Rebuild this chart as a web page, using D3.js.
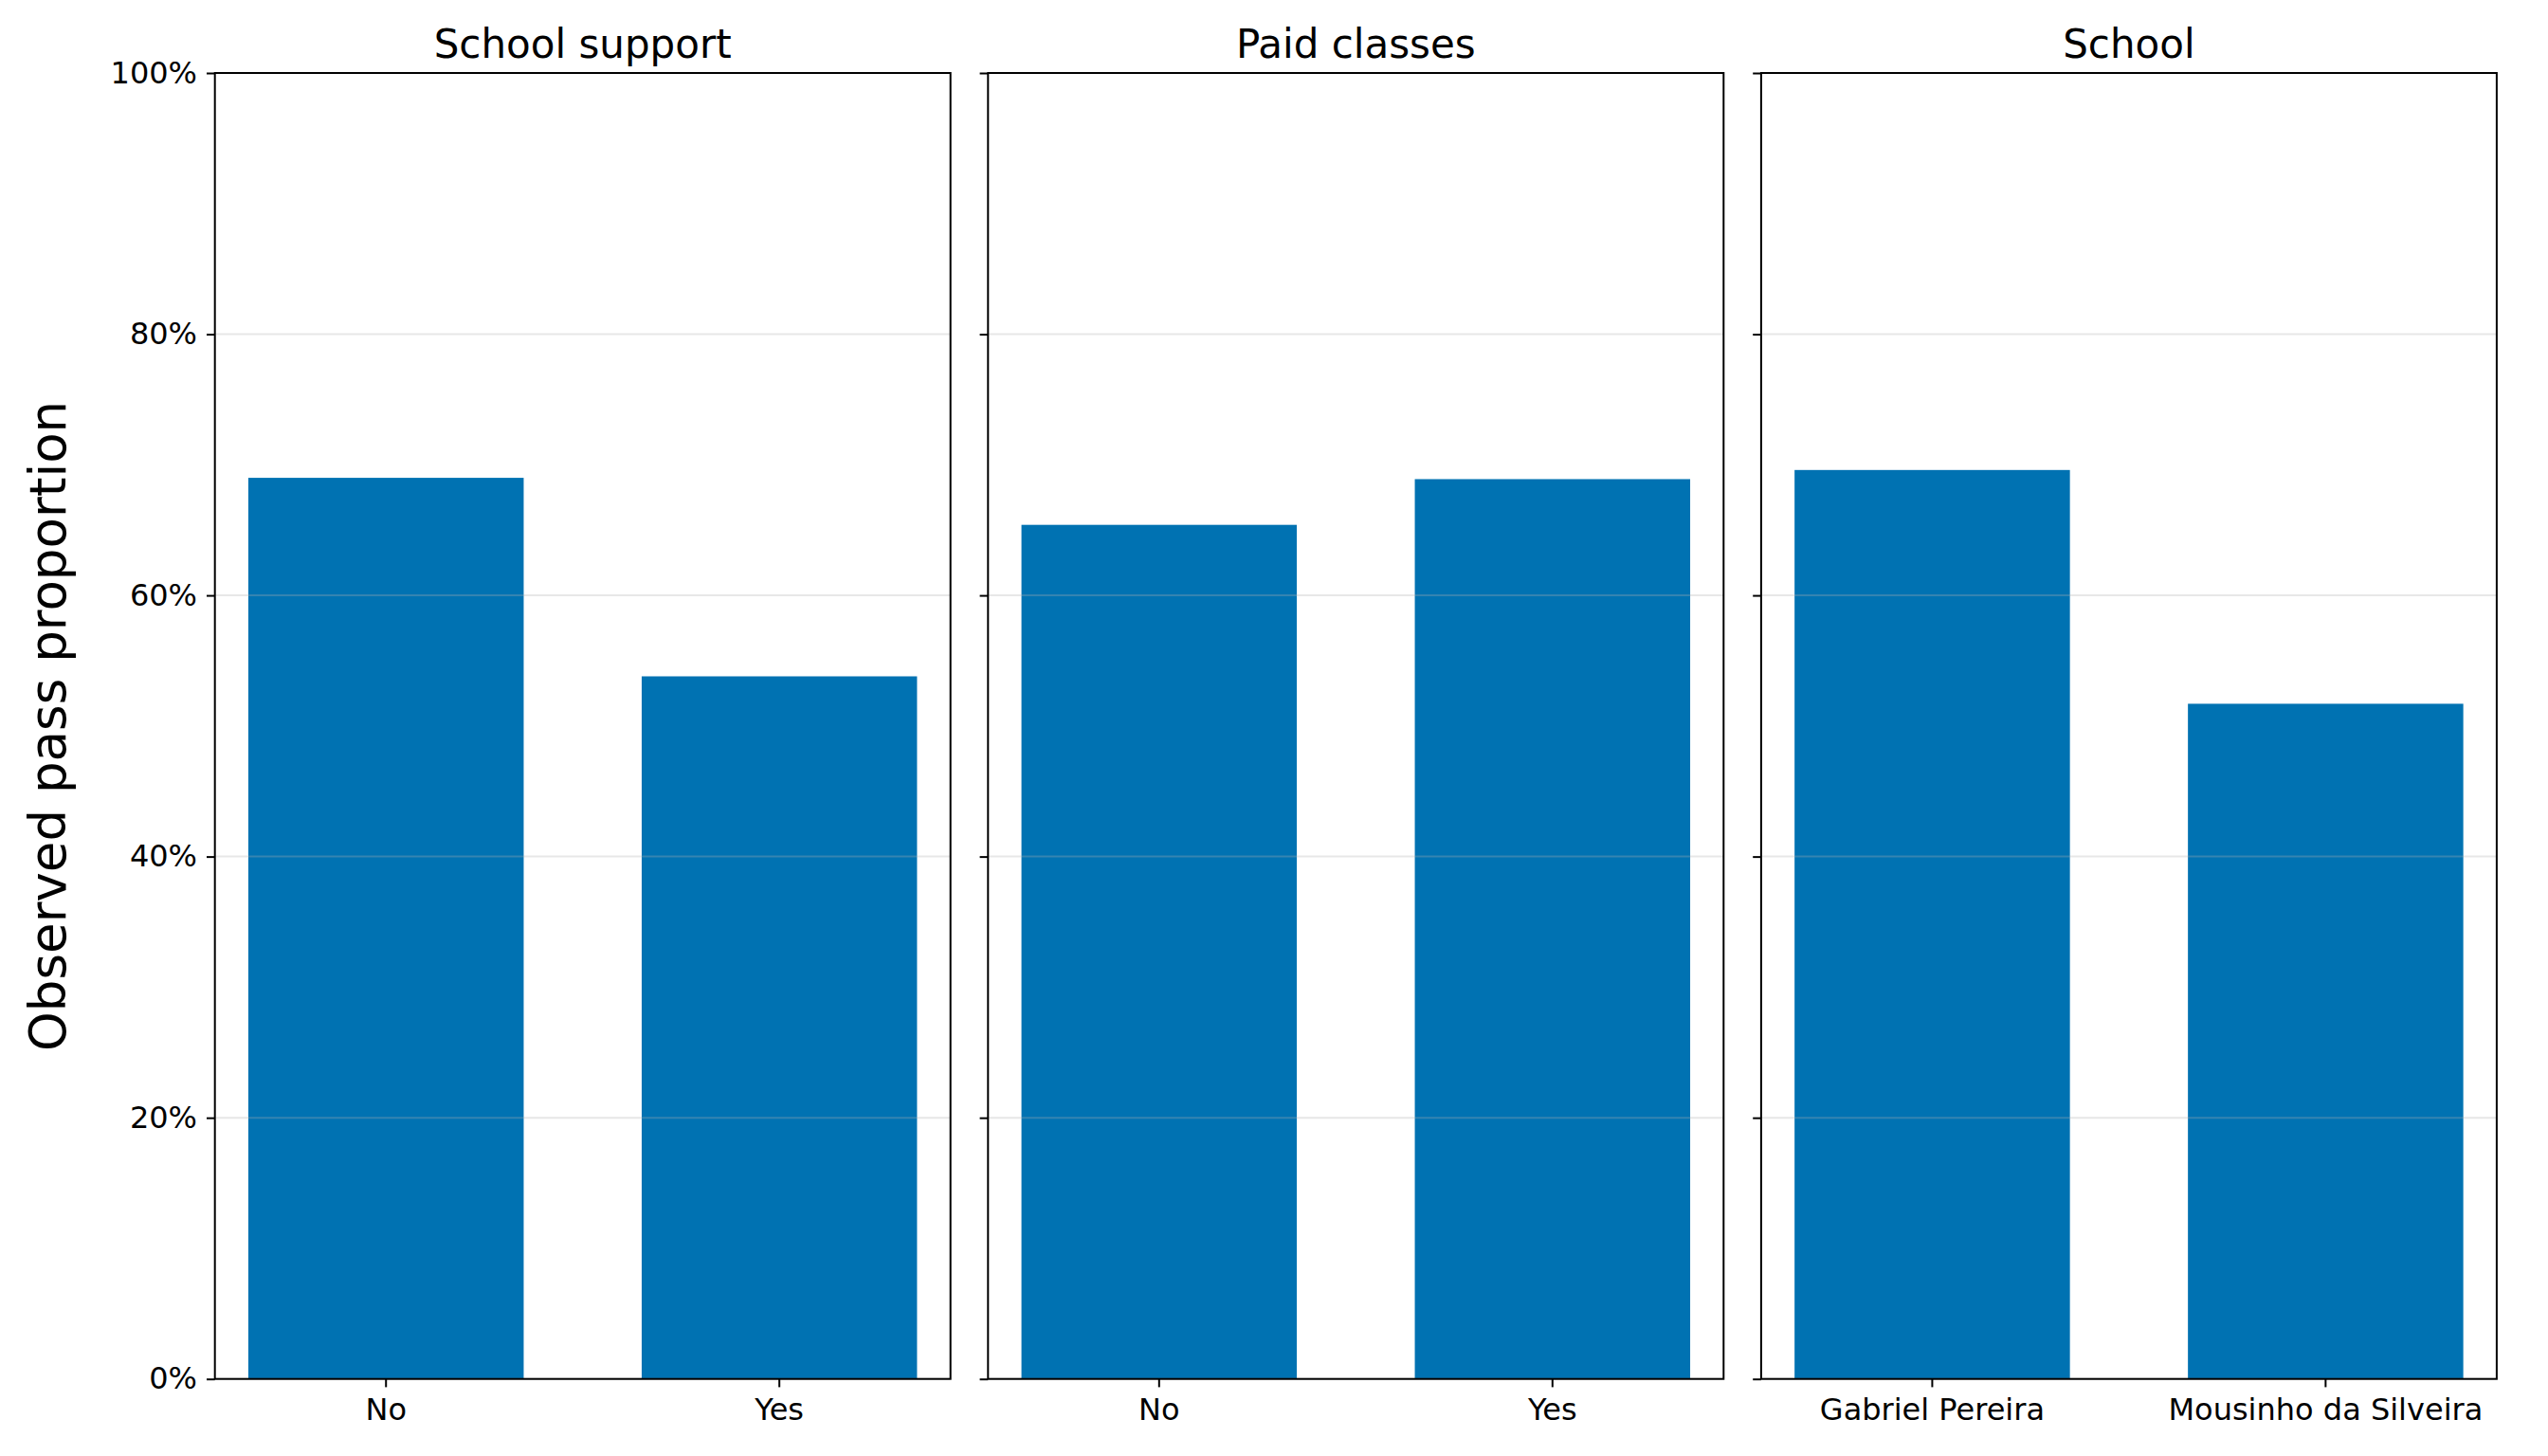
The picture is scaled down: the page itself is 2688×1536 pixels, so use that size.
<!DOCTYPE html>
<html>
<head>
<meta charset="utf-8">
<script src="https://cdn.jsdelivr.net/npm/d3@7"></script>
<style>
  body { margin: 0; background: white; }
  text { font-family: "DejaVu Sans", sans-serif; }
</style>
</head>
<body>
<svg width="2688" height="1536"></svg>
<script>
// panel titles and their categories
let panelTitles = ["School support", "Paid classes", "School"]
let schoolSupportCats = ["No", "Yes"]
let paidClassesCats = ["No", "Yes"]
let schoolCats = ["Gabriel Pereira", "Mousinho da Silveira"]

// observed pass proportions
let schoolSupportVals = [0.690, 0.538]
let paidClassesVals = [0.654, 0.689]
let schoolVals = [0.696, 0.517]

let yTicks = [0, 0.2, 0.4, 0.6, 0.8, 1.0]

let panels = [
    {title: panelTitles[0], cats: schoolSupportCats, vals: schoolSupportVals},
    {title: panelTitles[1], cats: paidClassesCats, vals: paidClassesVals},
    {title: panelTitles[2], cats: schoolCats, vals: schoolVals}
]

let svg = d3.select("svg")
svg.append("rect").attr("width", 2688).attr("height", 1536).attr("fill", "white")

let left0 = 226.7
let pw = 776
let gap = 39.6
let plotTop = 77
let plotBottom = 1454.7

let y = d3.scaleLinear().domain([0, 1]).range([plotBottom - plotTop, 0])
let fmt = d3.format(".0%")

panels.forEach((p, i) => {
    let g = svg.append("g")
        .attr("transform", "translate(" + (left0 + i * (pw + gap)) + "," + plotTop + ")")
    let h = plotBottom - plotTop

    let x = d3.scaleBand().domain(p.cats).range([0, pw]).paddingInner(0.3).paddingOuter(0.085)

    let data = p.cats.map((c, j) => { return {cat: c, val: p.vals[j]} })

    g.selectAll(".bar")
     .data(data)
     .enter().append("rect")
     .attr("class", "bar")
     .attr("fill", "#0072b2")
     .attr("x", (d) => { return x(d.cat) })
     .attr("width", x.bandwidth())
     .attr("y", (d) => { return y(d.val) })
     .attr("height", (d) => { return h - y(d.val) })

    // grid on top of bars, light and see-through
    g.selectAll(".grid")
     .data(yTicks)
     .enter().append("line")
     .attr("x1", 0)
     .attr("x2", pw)
     .attr("y1", (d) => { return y(d) })
     .attr("y2", (d) => { return y(d) })
     .attr("stroke", "#b0b0b0")
     .attr("stroke-opacity", 0.3)
     .attr("stroke-width", 2)

    let ya = g.append("g")
     .call(d3.axisLeft(y).tickValues(yTicks).tickFormat(i == 0 ? fmt : "").tickSize(8.7).tickPadding(10))
    ya.select(".domain").remove()
    ya.selectAll("line").attr("stroke-width", 2)
    ya.selectAll("text").attr("font-size", "32px").attr("fill", "black")

    let xa = g.append("g")
     .attr("transform", "translate(0," + h + ")")
     .call(d3.axisBottom(x).tickSize(8.7).tickPadding(12.2))
    xa.select(".domain").remove()
    xa.selectAll("line").attr("stroke-width", 2)
    xa.selectAll("text").attr("font-size", "32px").attr("fill", "black")

    g.append("rect")
     .attr("width", pw)
     .attr("height", h)
     .attr("fill", "none")
     .attr("stroke", "black")
     .attr("stroke-width", 2)

    g.append("text")
     .attr("x", pw / 2)
     .attr("y", -16)
     .attr("text-anchor", "middle")
     .attr("font-size", "42px")
     .text(p.title)
})

svg.append("text")
   .attr("transform", "translate(69," + ((plotTop + plotBottom) / 2) + ") rotate(-90)")
   .attr("text-anchor", "middle")
   .attr("font-size", "53px")
   .text("Observed pass proportion")
</script>
</body>
</html>
